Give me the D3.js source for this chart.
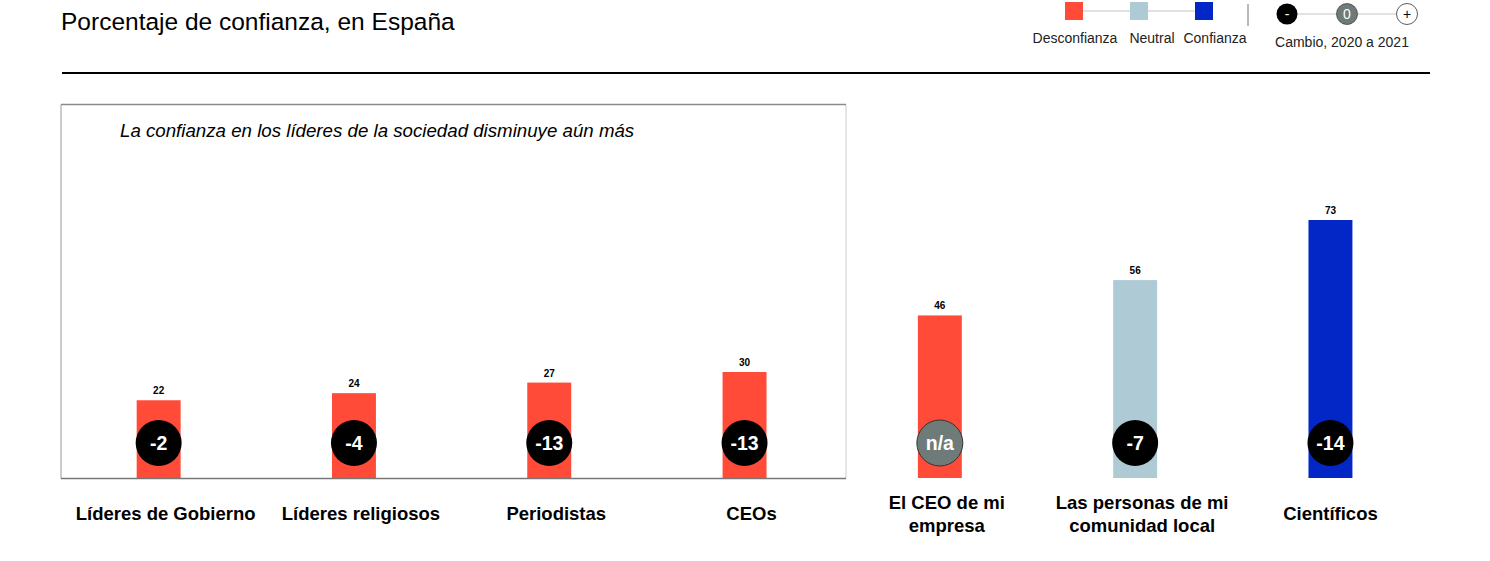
<!DOCTYPE html>
<html>
<head>
<meta charset="utf-8">
<script src="https://cdn.jsdelivr.net/npm/d3@7"></script>
<style>
    body { margin: 0; background: #fff; }
    svg { display: block; font-family: "Liberation Sans", Arial, sans-serif; }
</style>
</head>
<body>
<svg></svg>
<script>
const width = 1490;
const height = 561;

const categories = [
    ["Líderes de Gobierno"],
    ["Líderes religiosos"],
    ["Periodistas"],
    ["CEOs"],
    ["El CEO de mi", "empresa"],
    ["Las personas de mi", "comunidad local"],
    ["Científicos"]
];
const trustValues = [22, 24, 27, 30, 46, 56, 73];
const changeValues = ["-2", "-4", "-13", "-13", "n/a", "-7", "-14"];
const trustLevels = ["distrust", "distrust", "distrust", "distrust", "distrust", "neutral", "trust"];

const legendLabels = ["Desconfianza", "Neutral", "Confianza"];
const changeLegend = ["-", "0", "+"];

const colors = {
    distrust: "#ff4b37",
    neutral: "#aecad4",
    trust: "#0326c6"
};

const svg = d3.select("svg")
    .attr("width", width)
    .attr("height", height)
    .attr("viewBox", [0, 0, width, height]);

// title and rule
svg.append("text")
    .attr("x", 61)
    .attr("y", 30)
    .attr("font-size", 24.5)
    .attr("fill", "#000")
    .text("Porcentaje de confianza, en España");

svg.append("line")
    .attr("x1", 62).attr("x2", 1430)
    .attr("y1", 73).attr("y2", 73)
    .attr("stroke", "#000")
    .attr("stroke-width", 2);

// legend: trust levels
const legendX = d3.scalePoint().domain(legendLabels).range([1074, 1204]);
svg.append("line")
    .attr("x1", legendX(legendLabels[0])).attr("x2", legendX(legendLabels[2]))
    .attr("y1", 11).attr("y2", 11)
    .attr("stroke", "#d9d9d9").attr("stroke-width", 1.5);
const legendColors = [colors.distrust, colors.neutral, colors.trust];
const legendTextShift = [1, 13, 11];
svg.selectAll("rect.legend")
    .data(legendLabels)
    .join("rect")
    .classed("legend", true)
    .attr("x", d => legendX(d) - 9)
    .attr("y", 2)
    .attr("width", 18)
    .attr("height", 18)
    .attr("fill", (d, i) => legendColors[i]);
svg.selectAll("text.legend")
    .data(legendLabels)
    .join("text")
    .classed("legend", true)
    .attr("x", (d, i) => legendX(d) + legendTextShift[i])
    .attr("y", 43)
    .attr("text-anchor", "middle")
    .attr("font-size", 14)
    .attr("fill", "#222")
    .text(d => d);

svg.append("line")
    .attr("x1", 1248).attr("x2", 1248)
    .attr("y1", 4).attr("y2", 26)
    .attr("stroke", "#777").attr("stroke-width", 1);

// legend: change circles
const changeX = d3.scalePoint().domain(changeLegend).range([1287, 1407]);
svg.append("line")
    .attr("x1", changeX("-")).attr("x2", changeX("+"))
    .attr("y1", 14).attr("y2", 14)
    .attr("stroke", "#d9d9d9").attr("stroke-width", 1.5);
svg.selectAll("circle.legend")
    .data(changeLegend)
    .join("circle")
    .classed("legend", true)
    .attr("cx", d => changeX(d))
    .attr("cy", 14)
    .attr("r", 10.5)
    .attr("fill", d => d === "-" ? "#000" : d === "0" ? "#6f7b79" : "#fff")
    .attr("stroke", d => d === "+" ? "#333" : d === "0" ? "#444" : "none")
    .attr("stroke-width", 0.8);
svg.selectAll("text.change-legend")
    .data(changeLegend)
    .join("text")
    .classed("change-legend", true)
    .attr("x", d => changeX(d))
    .attr("y", 19)
    .attr("text-anchor", "middle")
    .attr("font-size", 14)
    .attr("fill", d => d === "+" ? "#000" : "#fff")
    .text(d => d);
svg.append("text")
    .attr("x", 1342)
    .attr("y", 47)
    .attr("text-anchor", "middle")
    .attr("font-size", 14)
    .attr("fill", "#222")
    .text("Cambio, 2020 a 2021");

// chart scales
const x = d3.scaleBand()
    .domain(d3.range(categories.length))
    .range([61, 61 + 195.3 * categories.length])
    .paddingInner(0.775)
    .paddingOuter(0.3875);

const y = d3.scaleLinear()
    .domain([0, 100])
    .range([478, 124.6]);

const cx = i => x(i) + x.bandwidth() / 2;

// box around the society leaders
const boxLeft = 61, boxRight = 846, boxTop = 104.5, boxBottom = 478.5;
svg.append("line")
    .attr("x1", boxLeft).attr("x2", boxLeft)
    .attr("y1", boxTop).attr("y2", boxBottom)
    .attr("stroke", "#999").attr("stroke-width", 1);
svg.append("line")
    .attr("x1", boxRight).attr("x2", boxRight)
    .attr("y1", boxTop).attr("y2", boxBottom)
    .attr("stroke", "#ddd").attr("stroke-width", 1.5);
svg.append("line")
    .attr("x1", boxLeft).attr("x2", boxRight)
    .attr("y1", boxTop).attr("y2", boxTop)
    .attr("stroke", "#8a8a8a").attr("stroke-width", 1.5);

svg.append("text")
    .attr("x", 120)
    .attr("y", 137)
    .attr("font-size", 18.7)
    .attr("font-style", "italic")
    .attr("fill", "#000")
    .text("La confianza en los líderes de la sociedad disminuye aún más");

// bars
svg.selectAll("rect.bar")
    .data(trustValues)
    .join("rect")
    .classed("bar", true)
    .attr("x", (d, i) => x(i))
    .attr("y", d => y(d))
    .attr("width", x.bandwidth())
    .attr("height", d => y(0) - y(d))
    .attr("fill", (d, i) => colors[trustLevels[i]]);

svg.append("line")
    .attr("x1", boxLeft).attr("x2", boxRight)
    .attr("y1", boxBottom).attr("y2", boxBottom)
    .attr("stroke", "#777").attr("stroke-width", 1.5);

svg.selectAll("text.value")
    .data(trustValues)
    .join("text")
    .classed("value", true)
    .attr("x", (d, i) => cx(i))
    .attr("y", d => y(d) - 6)
    .attr("text-anchor", "middle")
    .attr("font-size", 10)
    .attr("font-weight", "bold")
    .attr("fill", "#000")
    .text(d => d);

// change circles
const changeY = 443;
svg.selectAll("circle.change")
    .data(changeValues)
    .join("circle")
    .classed("change", true)
    .attr("cx", (d, i) => cx(i))
    .attr("cy", changeY)
    .attr("r", 23)
    .attr("fill", d => d === "n/a" ? "#6f7b79" : "#000")
    .attr("stroke", d => d === "n/a" ? "#333" : "none")
    .attr("stroke-width", 1);
svg.selectAll("text.change")
    .data(changeValues)
    .join("text")
    .classed("change", true)
    .attr("x", (d, i) => cx(i))
    .attr("y", changeY + 7)
    .attr("text-anchor", "middle")
    .attr("font-size", 19.5)
    .attr("font-weight", "bold")
    .attr("fill", "#fff")
    .text(d => d);

// category labels
svg.selectAll("text.category")
    .data(categories)
    .join("text")
    .classed("category", true)
    .attr("x", (d, i) => cx(i) + (i < categories.length - 1 ? 7 : 0))
    .attr("y", d => d.length > 1 ? 509 : 520)
    .attr("text-anchor", "middle")
    .attr("font-size", 18.5)
    .attr("font-weight", "bold")
    .attr("fill", "#000")
    .selectAll("tspan")
    .data(d => d)
    .join("tspan")
    .attr("x", function () { return d3.select(this.parentNode).attr("x"); })
    .attr("dy", (d, i) => i === 0 ? 0 : 23)
    .text(d => d);
</script>
</body>
</html>
